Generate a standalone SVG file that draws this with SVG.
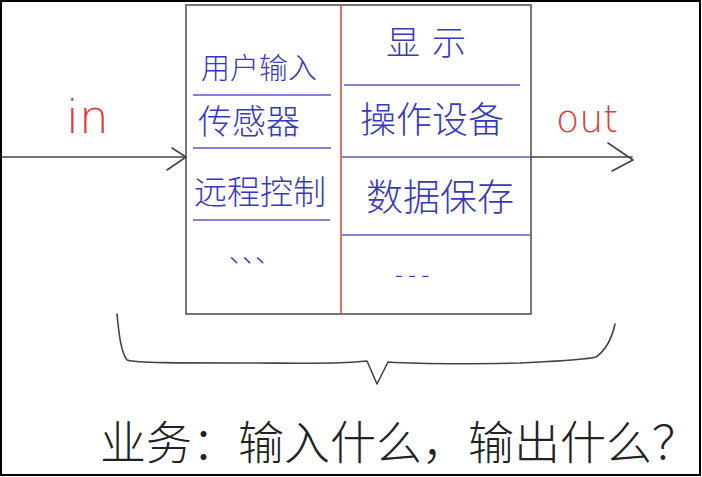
<svg xmlns="http://www.w3.org/2000/svg" width="702" height="477" viewBox="0 0 702 477">
<style>
.ink{fill:none;stroke:#444;stroke-width:1.6;stroke-linecap:round;stroke-linejoin:round}
.sep{stroke:#5858cc;stroke-width:1.6}
.red{stroke:#e04848;stroke-width:1.6}
.cn{font-family:"Noto Sans CJK SC","Noto Sans",sans-serif;fill:#3838c0;font-weight:300}
.lat{font-family:"DejaVu Sans","Liberation Sans",sans-serif;fill:#e03a3a;font-weight:300}
.big{font-family:"Noto Sans CJK SC","Noto Sans",sans-serif;fill:#222;font-weight:300}
</style>
<rect x="0" y="0" width="702" height="477" fill="#fff"/>
<rect x="1" y="1" width="699" height="474" fill="none" stroke="#000" stroke-width="2"/>

<g id="system">
  <rect x="186" y="5" width="345" height="309" fill="#fff" stroke="#555" stroke-width="1.6"/>
  <line class="red" x1="341" y1="5" x2="341" y2="314"/>
</g>

<g id="inputs">
  <line class="sep" x1="193" y1="95" x2="331" y2="95"/>
  <line class="sep" x1="193" y1="148" x2="331" y2="148"/>
  <line class="sep" x1="193" y1="220" x2="330" y2="220"/>
  <text class="cn" x="259" y="79" font-size="29" text-anchor="middle">用户输入</text>
  <text class="cn" x="249" y="134" font-size="34" text-anchor="middle">传感器</text>
  <text class="cn" x="260" y="204" font-size="33" text-anchor="middle">远程控制</text>
  <text class="cn" x="229" y="262" font-size="26">、、、</text>
</g>

<g id="outputs">
  <line class="sep" x1="344" y1="85" x2="520" y2="85"/>
  <line class="sep" x1="342" y1="157" x2="531" y2="157"/>
  <line class="sep" x1="342" y1="235" x2="530" y2="235"/>
  <text class="cn" x="386" y="55" font-size="34" letter-spacing="12">显示</text>
  <text class="cn" x="432" y="133" font-size="36" text-anchor="middle">操作设备</text>
  <text class="cn" x="440" y="211" font-size="37" text-anchor="middle">数据保存</text>
  <text class="cn" x="412" y="283" font-size="24" text-anchor="middle" font-family="Liberation Sans">- - -</text>
</g>

<g id="labels">
  <text class="lat" x="66" y="133" font-size="47">in</text>
  <text class="lat" x="556" y="132" font-size="38">out</text>
  <text class="big" x="100" y="459" font-size="46">业务：输入什么，输出什么？</text>
</g>

<g id="connectors">
  <line class="ink" x1="2" y1="157" x2="186" y2="157"/>
  <polyline class="ink" points="172,148 186,157 167,170"/>
  <line class="ink" x1="531" y1="157" x2="632" y2="157"/>
  <polyline class="ink" points="608,143 633,160 612,171"/>
  <path class="ink" d="M117,314 C119,335 121,352 127,360 C135,363 180,363 240,363 C290,363 330,364 355,362 L367,361 L377,384 L388,362 C420,364 470,364 520,363 C560,361 585,360 596,357 C606,350 612,338 615,324"/>
</g>
</svg>
